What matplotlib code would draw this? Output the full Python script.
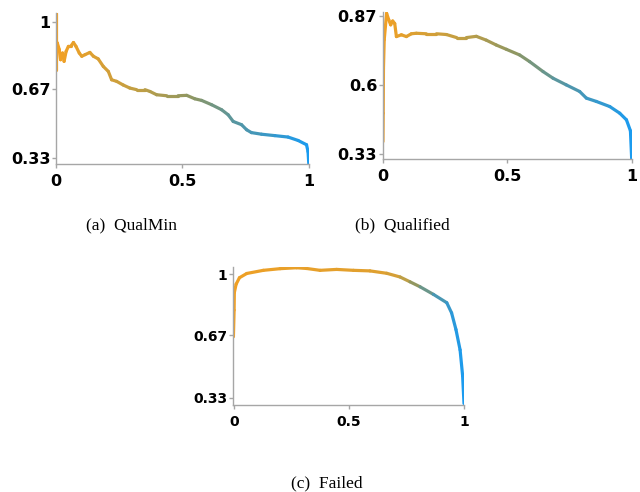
import numpy as np
import matplotlib
matplotlib.use("Agg")
import matplotlib.pyplot as plt
from matplotlib.collections import LineCollection
from matplotlib.colors import LinearSegmentedColormap

# (a) QualMin
recall_a = [0.0, 0.0, 0.005, 0.013, 0.018, 0.026, 0.032, 0.040, 0.049, 0.058,
            0.069, 0.079, 0.092, 0.102, 0.115, 0.134, 0.148, 0.167, 0.187, 0.207,
            0.220, 0.240, 0.266, 0.292, 0.319, 0.352, 0.372, 0.398, 0.438, 0.483,
            0.517, 0.549, 0.576, 0.615, 0.655, 0.681, 0.701, 0.734, 0.754, 0.773,
            0.813, 0.866, 0.918, 0.958, 0.991, 0.997, 1.0]
prec_a = [1.046, 0.766, 0.898, 0.865, 0.815, 0.848, 0.807, 0.856, 0.881, 0.881,
          0.900, 0.881, 0.848, 0.832, 0.840, 0.851, 0.832, 0.819, 0.782, 0.757,
          0.716, 0.708, 0.690, 0.675, 0.667, 0.667, 0.658, 0.642, 0.637, 0.637,
          0.639, 0.622, 0.614, 0.593, 0.568, 0.543, 0.510, 0.494, 0.469, 0.455,
          0.447, 0.440, 0.433, 0.416, 0.395, 0.361, 0.30]
score_a = [0.0, 0.0, 0.0, 0.01, 0.01, 0.02, 0.03, 0.04, 0.05, 0.06,
           0.07, 0.08, 0.09, 0.10, 0.11, 0.13, 0.15, 0.17, 0.19, 0.21,
           0.22, 0.24, 0.27, 0.30, 0.33, 0.36, 0.38, 0.41, 0.45, 0.49,
           0.52, 0.55, 0.58, 0.62, 0.66, 0.69, 0.71, 0.74, 0.76, 0.78,
           0.82, 0.87, 0.92, 0.96, 0.99, 1.0, 1.0]

# (b) Qualified
recall_b = [0.001, 0.002, 0.003, 0.006, 0.0156, 0.0245, 0.032, 0.040, 0.0482, 0.055,
            0.075, 0.095, 0.115, 0.135, 0.175, 0.216, 0.256, 0.297, 0.336, 0.376,
            0.416, 0.456, 0.497, 0.55, 0.59, 0.644, 0.684, 0.737, 0.791, 0.818,
            0.858, 0.912, 0.952, 0.979, 0.995, 1.0]
prec_b = [0.378, 0.489, 0.665, 0.776, 0.88, 0.854, 0.835, 0.85, 0.84, 0.789,
          0.796, 0.789, 0.80, 0.802, 0.80, 0.80, 0.797, 0.785, 0.785, 0.79,
          0.775, 0.756, 0.739, 0.717, 0.691, 0.652, 0.626, 0.60, 0.574, 0.548,
          0.535, 0.515, 0.489, 0.463, 0.42, 0.31]
score_b = [0.0, 0.0, 0.0, 0.01, 0.02, 0.03, 0.04, 0.05, 0.06, 0.07,
           0.09, 0.11, 0.13, 0.15, 0.19, 0.23, 0.27, 0.31, 0.35, 0.39,
           0.43, 0.47, 0.51, 0.56, 0.60, 0.65, 0.69, 0.74, 0.79, 0.82,
           0.86, 0.91, 0.95, 0.98, 0.99, 1.0]

# (c) Failed
recall_c = [-0.003, 0.0, 0.001, 0.0087, 0.0232, 0.055, 0.127, 0.20, 0.272, 0.316,
            0.374, 0.446, 0.519, 0.591, 0.664, 0.722, 0.765, 0.809, 0.867, 0.925,
            0.946, 0.965, 0.983, 0.994, 1.0]
prec_c = [0.661, 0.805, 0.90, 0.945, 0.98, 1.003, 1.02, 1.029, 1.034, 1.03,
          1.02, 1.025, 1.02, 1.017, 1.004, 0.984, 0.958, 0.931, 0.89, 0.845,
          0.79, 0.70, 0.59, 0.45, 0.30]
score_c = [0.0, 0.0, 0.01, 0.02, 0.03, 0.04, 0.05, 0.06, 0.07, 0.08,
           0.09, 0.10, 0.11, 0.12, 0.15, 0.25, 0.45, 0.60, 0.72, 0.84,
           0.90, 0.94, 0.97, 0.99, 1.0]

cmap = LinearSegmentedColormap.from_list(
    "pr", [(0.0, "#F3A023"), (0.35, "#BE9F46"), (0.55, "#8C9664"),
           (0.75, "#5096AA"), (1.0, "#1A9BF0")])

fig = plt.figure(figsize=(6.4, 4.92), dpi=100)

panels = [
    # rect, x, y, score, ylim, yticks, yticklabels, xlim, label size, caption, caption pos
    ([0.0875, 0.6667, 0.395, 0.307], recall_a, prec_a, score_a, (0.30, 1.046),
     [0.33, 0.67, 1.0], ["0.33", "0.67", "1"], (0.0, 1.0), 11.5, "(a)  QualMin", (132, 225)),
    ([0.598, 0.677, 0.389, 0.299], recall_b, prec_b, score_b, (0.31, 0.886),
     [0.33, 0.6, 0.87], ["0.33", "0.6", "0.87"], (0.0, 1.0), 11.5, "(b)  Qualified", (402, 225)),
    ([0.364, 0.1768, 0.361, 0.2805], recall_c, prec_c, score_c, (0.292, 1.038),
     [0.33, 0.67, 1.0], ["0.33", "0.67", "1"], (-0.005, 1.0), 10, "(c)  Failed", (327, 483)),
]

for rect, xs, ys, sc, ylim, yt, ytl, xlim, fs, cap, cpos in panels:
    ax = fig.add_axes(rect)
    pts = np.column_stack([xs, ys])
    segs = np.stack([pts[:-1], pts[1:]], axis=1)
    sc = np.asarray(sc)
    lc = LineCollection(segs, colors=cmap((sc[:-1] + sc[1:]) / 2),
                        linewidth=2.3, capstyle="round", joinstyle="round")
    ax.add_collection(lc)
    ax.set_xlim(*xlim)
    ax.set_ylim(*ylim)
    ax.set_xticks([0, 0.5, 1])
    ax.set_xticklabels(["0", "0.5", "1"])
    ax.set_yticks(yt)
    ax.set_yticklabels(ytl)
    for s in ["top", "right"]:
        ax.spines[s].set_visible(False)
    for s in ["left", "bottom"]:
        ax.spines[s].set_color("#A6A6A6")
        ax.spines[s].set_linewidth(1.0)
    ax.tick_params(axis="both", colors="#A6A6A6", length=3, width=1,
                   labelcolor="black", labelsize=fs)
    ax.tick_params(axis="y", pad=1)
    ax.tick_params(axis="x", pad=4)
    for lab in ax.get_xticklabels() + ax.get_yticklabels():
        lab.set_fontweight("bold")
    fig.text(cpos[0] / 640, 1 - cpos[1] / 492, cap, ha="center", va="center",
             family="Liberation Serif", fontsize=12.5)

fig.savefig("out.png", dpi=100)
